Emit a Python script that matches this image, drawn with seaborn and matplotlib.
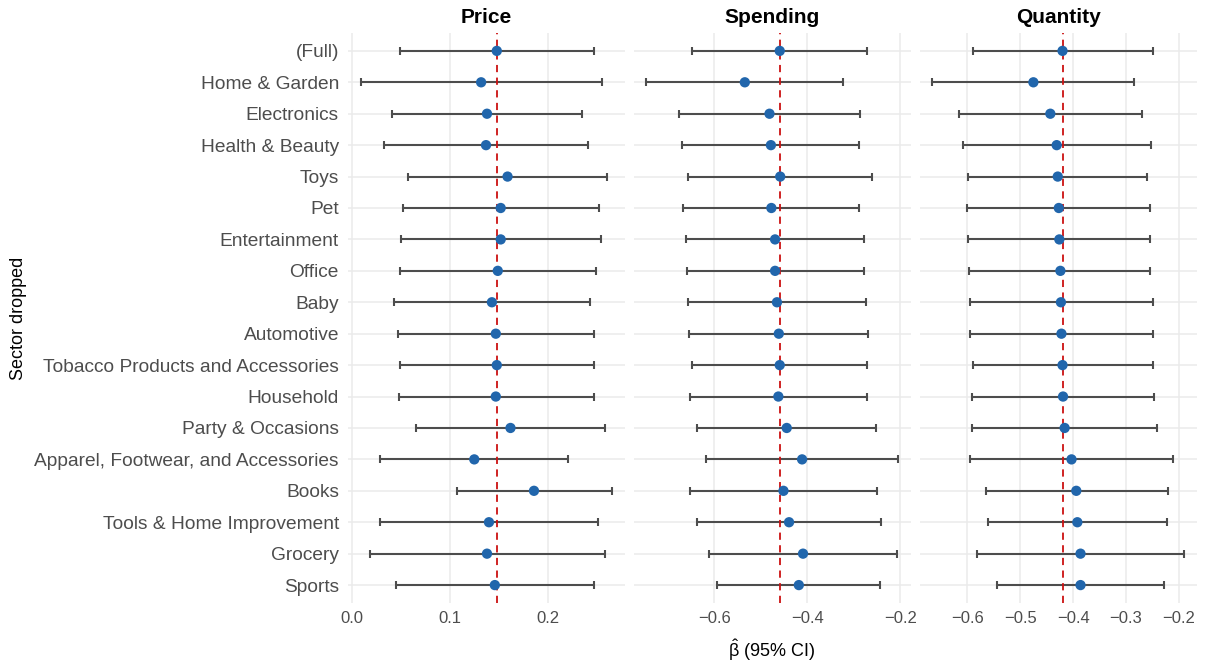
import numpy as np
import pandas as pd
import matplotlib
matplotlib.use("Agg")
import matplotlib.pyplot as plt
import seaborn as sns

# sectors, top to bottom
sectors = [
    "(Full)", "Home & Garden", "Electronics", "Health & Beauty", "Toys", "Pet",
    "Entertainment", "Office", "Baby", "Automotive",
    "Tobacco Products and Accessories", "Household", "Party & Occasions",
    "Apparel, Footwear, and Accessories", "Books", "Tools & Home Improvement",
    "Grocery", "Sports",
]

price_est = [0.148, 0.132, 0.138, 0.137, 0.159, 0.152, 0.152, 0.149, 0.143,
             0.147, 0.148, 0.147, 0.162, 0.125, 0.186, 0.140, 0.138, 0.146]
price_lo = [0.049, 0.009, 0.041, 0.033, 0.057, 0.052, 0.050, 0.049, 0.043,
            0.047, 0.049, 0.048, 0.065, 0.029, 0.107, 0.029, 0.018, 0.045]
price_hi = [0.247, 0.255, 0.235, 0.241, 0.261, 0.252, 0.254, 0.249, 0.243,
            0.247, 0.247, 0.247, 0.259, 0.221, 0.266, 0.251, 0.259, 0.247]

spend_est = [-0.459, -0.534, -0.481, -0.478, -0.458, -0.477, -0.469, -0.469, -0.465,
             -0.461, -0.459, -0.462, -0.444, -0.411, -0.451, -0.439, -0.409, -0.418]
spend_lo = [-0.648, -0.746, -0.675, -0.669, -0.655, -0.666, -0.660, -0.658, -0.657,
            -0.654, -0.647, -0.652, -0.637, -0.617, -0.652, -0.637, -0.610, -0.594]
spend_hi = [-0.271, -0.323, -0.287, -0.288, -0.261, -0.288, -0.277, -0.278, -0.273,
            -0.270, -0.272, -0.272, -0.252, -0.204, -0.251, -0.241, -0.208, -0.244]

qty_est = [-0.420, -0.475, -0.443, -0.431, -0.429, -0.427, -0.426, -0.424, -0.423,
           -0.422, -0.420, -0.419, -0.416, -0.403, -0.394, -0.392, -0.386, -0.386]
qty_lo = [-0.589, -0.666, -0.616, -0.608, -0.598, -0.600, -0.598, -0.596, -0.595,
          -0.595, -0.589, -0.590, -0.591, -0.595, -0.565, -0.561, -0.581, -0.543]
qty_hi = [-0.250, -0.285, -0.269, -0.252, -0.260, -0.255, -0.254, -0.254, -0.250,
          -0.250, -0.250, -0.248, -0.241, -0.211, -0.221, -0.222, -0.190, -0.229]

outcomes = ["Price", "Spending", "Quantity"]
x_ticks = {
    "Price": [0.0, 0.1, 0.2],
    "Spending": [-0.6, -0.4, -0.2],
    "Quantity": [-0.6, -0.5, -0.4, -0.3, -0.2],
}
x_tick_labels = {
    "Price": ["0.0", "0.1", "0.2"],
    "Spending": ["\u22120.6", "\u22120.4", "\u22120.2"],
    "Quantity": ["\u22120.6", "\u22120.5", "\u22120.4", "\u22120.3", "\u22120.2"],
}
x_limits = {
    "Price": (-0.004, 0.279),
    "Spending": (-0.772, -0.177),
    "Quantity": (-0.689, -0.166),
}

frames = []
for name, est, lo, hi in [("Price", price_est, price_lo, price_hi),
                          ("Spending", spend_est, spend_lo, spend_hi),
                          ("Quantity", qty_est, qty_lo, qty_hi)]:
    frames.append(pd.DataFrame({"sector": sectors, "outcome": name,
                                "est": est, "lo": lo, "hi": hi}))
df = pd.concat(frames, ignore_index=True)

sns.set_theme(style="whitegrid")
plt.rcParams["font.family"] = ["Liberation Sans", "DejaVu Sans"]
plt.rcParams["mathtext.fontset"] = "custom"
plt.rcParams["mathtext.rm"] = "Liberation Sans"
plt.rcParams["mathtext.it"] = "Liberation Sans:italic"

fig, axes = plt.subplots(1, 3, figsize=(12.05, 6.66), dpi=100, sharey=True)
fig.subplots_adjust(left=0.2888, right=0.9934, top=0.9505, bottom=0.0946, wspace=0.0325)

for ax, name in zip(axes, outcomes):
    d = df[df["outcome"] == name]
    ax.errorbar(d["est"], d["sector"],
                xerr=[d["est"] - d["lo"], d["hi"] - d["est"]],
                fmt="none", ecolor="#4d4d4d", elinewidth=1.5,
                capsize=3, capthick=1.5, zorder=2)
    sns.scatterplot(data=d, x="est", y="sector", color="#2166ac", s=55,
                    edgecolor="none", linewidth=0, ax=ax, zorder=3)
    full_est = d.loc[d["sector"] == "(Full)", "est"].iloc[0]
    ax.axvline(full_est, color="#cc1111", ls=(0, (4, 3)), lw=1.3, zorder=2.5)

    ax.set_xlim(*x_limits[name])
    ax.set_xticks(x_ticks[name])
    ax.set_xticklabels(x_tick_labels[name])
    ax.set_ylim(len(sectors) - 0.43, -0.57)
    ax.set_title(name, fontsize=15, fontweight="bold", pad=7, color="black")
    ax.set_xlabel("")
    ax.set_ylabel("")
    ax.grid(True, color="#ebebeb", lw=1.1)
    ax.set_axisbelow(True)
    for s in ax.spines.values():
        s.set_visible(False)
    ax.tick_params(axis="x", length=0, pad=5.5, labelsize=12, labelcolor="#4d4d4d")
    ax.tick_params(axis="y", length=0, pad=6.5, labelsize=13.8, labelcolor="#4d4d4d")

fig.text(0.6407, 0.024, r"$\hat{\mathrm{\beta}}$ (95% CI)", ha="center", va="center",
         fontsize=13, color="black")
fig.text(0.015, 0.5225, "Sector dropped", rotation=90, ha="center", va="center",
         fontsize=13, color="black")

fig.savefig("out.png", dpi=100)
